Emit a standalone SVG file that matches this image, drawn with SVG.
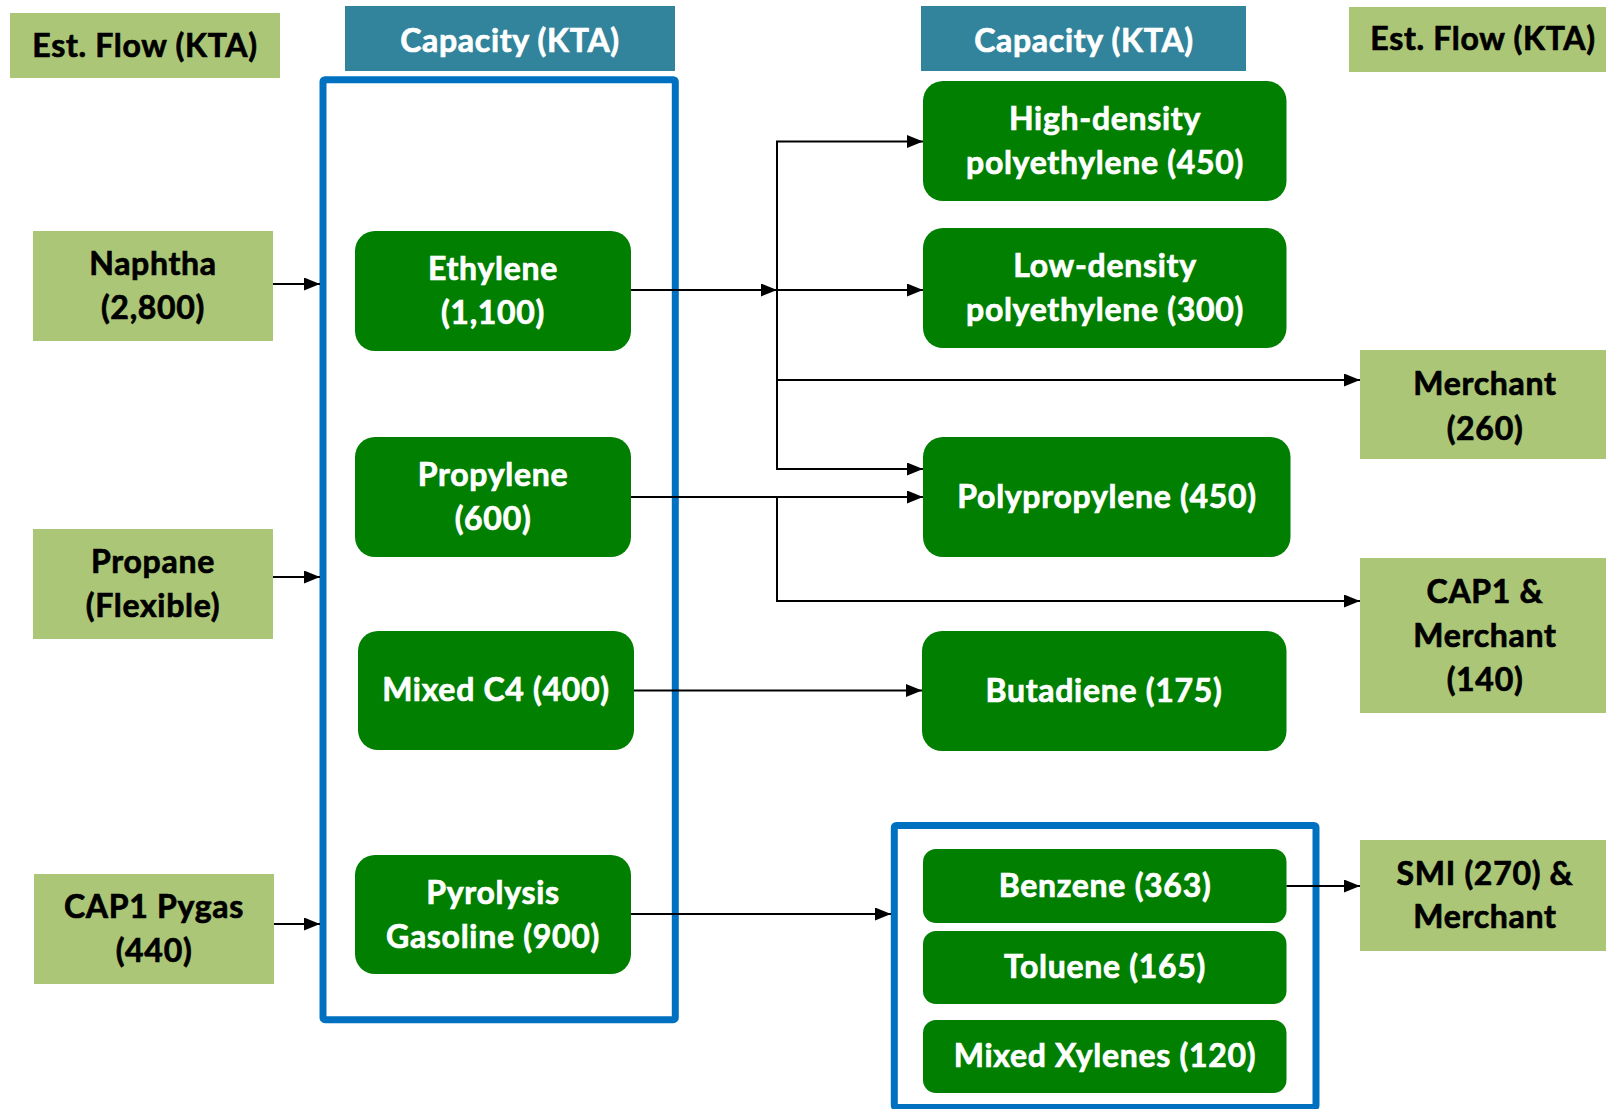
<svg xmlns="http://www.w3.org/2000/svg" width="1606" height="1109" viewBox="0 0 1606 1109">
<style>
.flow{fill:#ACC677}
.hdr{fill:#31849B}
.node{fill:#007F00}
.blue{fill:none;stroke:#0070C0;stroke-width:7}
text{font-family:Lato,"Open Sans","Liberation Sans",sans-serif;font-weight:bold;font-size:32px;letter-spacing:0.7px;text-anchor:middle;stroke-width:0.7px}
.dk{fill:#000;stroke:#000}
.wt{fill:#fff;stroke:#fff}
.conn line,.conn polyline{stroke:#000;stroke-width:2;fill:none}
</style>
<defs>
<marker id="ah" viewBox="0 0 16 13" refX="16" refY="6.5" markerWidth="16" markerHeight="13" markerUnits="userSpaceOnUse" orient="auto">
<path d="M0,0 L16,6.5 L0,13 Z" fill="#000"/>
</marker>
</defs>
<rect width="1606" height="1109" fill="#fff"/>

<g id="group-left"><rect class="blue" x="323" y="79.7" width="352.3" height="940" rx="2"/></g>
<g id="group-aromatics"><rect class="blue" x="894.3" y="825.5" width="421.7" height="282" rx="2"/></g>

<g id="hdr-flow-left"><rect class="flow" x="10" y="13" width="270" height="65"/><text class="dk" x="145" y="56.5">Est. Flow (KTA)</text></g>
<g id="hdr-cap-left"><rect class="hdr" x="345" y="6" width="330" height="65"/><text class="wt" x="510" y="51.5">Capacity (KTA)</text></g>
<g id="hdr-cap-right"><rect class="hdr" x="921" y="6" width="325" height="65"/><text class="wt" x="1084" y="51.5">Capacity (KTA)</text></g>
<g id="hdr-flow-right"><rect class="flow" x="1349" y="7" width="260" height="65"/><text class="dk" x="1483" y="50">Est. Flow (KTA)</text></g>

<g id="naphtha"><rect class="flow" x="33" y="231" width="240" height="110"/><text class="dk" x="153" y="275">Naphtha</text><text class="dk" x="153" y="319">(2,800)</text></g>
<g id="propane"><rect class="flow" x="33" y="529" width="240" height="110"/><text class="dk" x="153" y="573">Propane</text><text class="dk" x="153" y="617">(Flexible)</text></g>
<g id="cap1-pygas"><rect class="flow" x="34" y="874" width="240" height="110"/><text class="dk" x="154" y="918">CAP1 Pygas</text><text class="dk" x="154" y="962">(440)</text></g>

<g id="ethylene"><rect class="node" x="355" y="231" width="276" height="120" rx="20"/><text class="wt" x="493" y="280">Ethylene</text><text class="wt" x="493" y="324">(1,100)</text></g>
<g id="propylene"><rect class="node" x="355" y="437" width="276" height="120" rx="20"/><text class="wt" x="493" y="486">Propylene</text><text class="wt" x="493" y="530">(600)</text></g>
<g id="mixed-c4"><rect class="node" x="358" y="631" width="276" height="119" rx="20"/><text class="wt" x="496" y="701">Mixed C4 (400)</text></g>
<g id="pyrolysis-gasoline"><rect class="node" x="355" y="855" width="276" height="119" rx="20"/><text class="wt" x="493" y="904">Pyrolysis</text><text class="wt" x="493" y="948">Gasoline (900)</text></g>

<g id="hdpe"><rect class="node" x="923" y="81" width="363.5" height="120" rx="20"/><text class="wt" x="1105" y="130">High-density</text><text class="wt" x="1105" y="174">polyethylene (450)</text></g>
<g id="ldpe"><rect class="node" x="923" y="228" width="363.5" height="120" rx="20"/><text class="wt" x="1105" y="277">Low-density</text><text class="wt" x="1105" y="321">polyethylene (300)</text></g>
<g id="polypropylene"><rect class="node" x="923" y="437" width="367.5" height="120" rx="20"/><text class="wt" x="1107" y="508">Polypropylene (450)</text></g>
<g id="butadiene"><rect class="node" x="922" y="631" width="364.5" height="120" rx="20"/><text class="wt" x="1104" y="702">Butadiene (175)</text></g>
<g id="benzene"><rect class="node" x="923" y="849" width="363.5" height="74" rx="13"/><text class="wt" x="1105" y="897">Benzene (363)</text></g>
<g id="toluene"><rect class="node" x="923" y="931" width="363.5" height="73" rx="13"/><text class="wt" x="1105" y="978">Toluene (165)</text></g>
<g id="mixed-xylenes"><rect class="node" x="923" y="1020" width="363.5" height="73" rx="13"/><text class="wt" x="1105" y="1067">Mixed Xylenes (120)</text></g>

<g id="merchant"><rect class="flow" x="1360" y="350" width="250" height="109"/><text class="dk" x="1485" y="395">Merchant</text><text class="dk" x="1485" y="440">(260)</text></g>
<g id="cap1-merchant"><rect class="flow" x="1360" y="558" width="250" height="155"/><text class="dk" x="1485" y="603">CAP1 &amp;</text><text class="dk" x="1485" y="647">Merchant</text><text class="dk" x="1485" y="691">(140)</text></g>
<g id="smi-merchant"><rect class="flow" x="1360" y="840" width="250" height="111"/><text class="dk" x="1485" y="885">SMI (270) &amp;</text><text class="dk" x="1485" y="928">Merchant</text></g>

<g id="connectors" class="conn">
<line x1="273" y1="284" x2="320" y2="284" marker-end="url(#ah)"/>
<line x1="273" y1="577" x2="320" y2="577" marker-end="url(#ah)"/>
<line x1="274" y1="924" x2="320" y2="924" marker-end="url(#ah)"/>
<line x1="631" y1="290" x2="777" y2="290" marker-end="url(#ah)"/>
<line x1="777" y1="141" x2="777" y2="470"/>
<line x1="776" y1="141.5" x2="923" y2="141.5" marker-end="url(#ah)"/>
<line x1="777" y1="290" x2="923" y2="290" marker-end="url(#ah)"/>
<line x1="777" y1="380" x2="1360" y2="380" marker-end="url(#ah)"/>
<line x1="776" y1="469" x2="923" y2="469" marker-end="url(#ah)"/>
<line x1="631" y1="497" x2="923" y2="497" marker-end="url(#ah)"/>
<polyline points="777,497 777,601 1360,601" marker-end="url(#ah)"/>
<line x1="634" y1="690.5" x2="922" y2="690.5" marker-end="url(#ah)"/>
<line x1="631" y1="914" x2="891" y2="914" marker-end="url(#ah)"/>
<line x1="1286.5" y1="886" x2="1360" y2="886" marker-end="url(#ah)"/>
</g>
</svg>
